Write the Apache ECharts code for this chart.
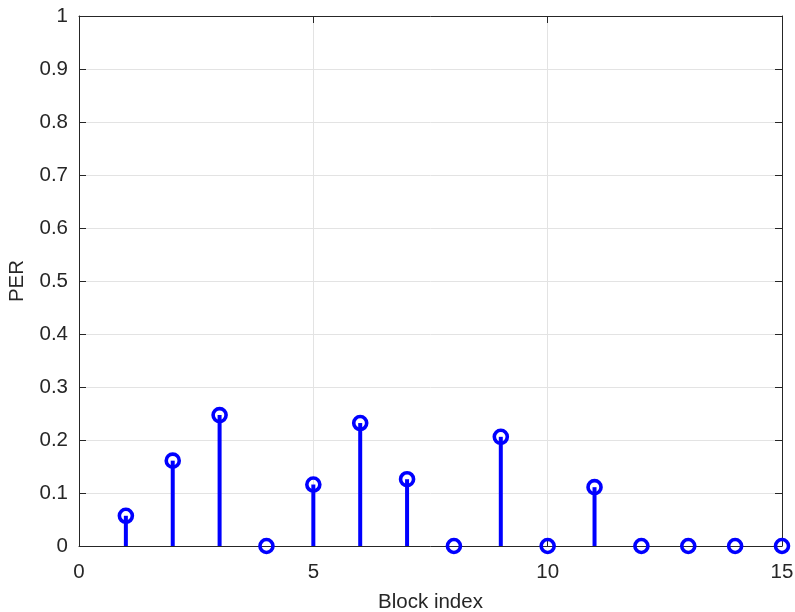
<!DOCTYPE html>
<html>
<head>
<meta charset="utf-8">
<script src="https://cdn.jsdelivr.net/npm/echarts@6/dist/echarts.min.js"></script>
<style>html,body{margin:0;padding:0;background:#fff}#c{width:795px;height:612px}</style>
</head>
<body>
<div id="c"></div>
<script>
const blockIndex = [1, 2, 3, 4, 5, 6, 7, 8, 9, 10, 11, 12, 13, 14, 15];
const perValues = [0.057, 0.161, 0.247, 0, 0.116, 0.232, 0.126, 0, 0.206, 0, 0.111, 0, 0, 0, 0];
const xTicks = [0, 5, 10, 15];
const yTicks = [0, 0.1, 0.2, 0.3, 0.4, 0.5, 0.6, 0.7, 0.8, 0.9, 1];

const pts = blockIndex.map((x, i) => [x, perValues[i]]);
const font = 'Liberation Sans, Arial, Helvetica, sans-serif';
const ink = '#262626';
const fs = 20.5;

const chart = echarts.init(document.getElementById('c'), null, {renderer: 'canvas'});
const axisCommon = {
  axisLine: {show: true, onZero: false, lineStyle: {color: ink, width: 1}},
  axisTick: {show: true, inside: true, length: 7, lineStyle: {color: ink, width: 1}},
};
chart.setOption({
  animation: false,
  backgroundColor: '#fff',
  grid: {left: 79, right: 13, top: 16, bottom: 66, containLabel: false, outerBoundsMode: 'none'},
  xAxis: [
    Object.assign({
      type: 'value', min: xTicks[0], max: xTicks[xTicks.length - 1], interval: 5,
      axisLabel: {color: ink, fontSize: fs, fontFamily: font, margin: 16},
      splitLine: {show: true, lineStyle: {color: '#e3e3e3', width: 1}},
      name: 'Block index', nameLocation: 'middle', nameGap: 46,
      nameTextStyle: {color: ink, fontSize: fs, fontFamily: font}
    }, axisCommon),
    Object.assign({
      type: 'value', position: 'top', min: 0, max: 15, interval: 5,
      axisLabel: {show: false}, splitLine: {show: false}
    }, axisCommon)
  ],
  yAxis: [
    Object.assign({
      type: 'value', min: yTicks[0], max: yTicks[yTicks.length - 1], interval: 0.1,
      axisLabel: {color: ink, fontSize: fs, fontFamily: font, margin: 11,
        formatter: v => String(Math.round(v * 10) / 10)},
      splitLine: {show: true, lineStyle: {color: '#e3e3e3', width: 1}},
      name: 'PER', nameLocation: 'middle', nameGap: 51, nameRotate: 90,
      nameTextStyle: {color: ink, fontSize: fs, fontFamily: font}
    }, axisCommon),
    Object.assign({
      type: 'value', position: 'right', min: 0, max: 1, interval: 0.1,
      axisLabel: {show: false}, splitLine: {show: false}
    }, axisCommon)
  ],
  series: [
    {
      type: 'bar', xAxisIndex: 0, yAxisIndex: 0, data: pts, barWidth: 4,
      itemStyle: {color: '#0000ff'}, silent: true
    },
    {
      type: 'scatter', xAxisIndex: 0, yAxisIndex: 0, data: pts, clip: false,
      symbol: 'circle', symbolSize: 13,
      itemStyle: {color: 'rgba(0,0,0,0)', borderColor: '#0000ff', borderWidth: 3.6, opacity: 1},
      z: 5
    }
  ]
});
</script>
</body>
</html>
